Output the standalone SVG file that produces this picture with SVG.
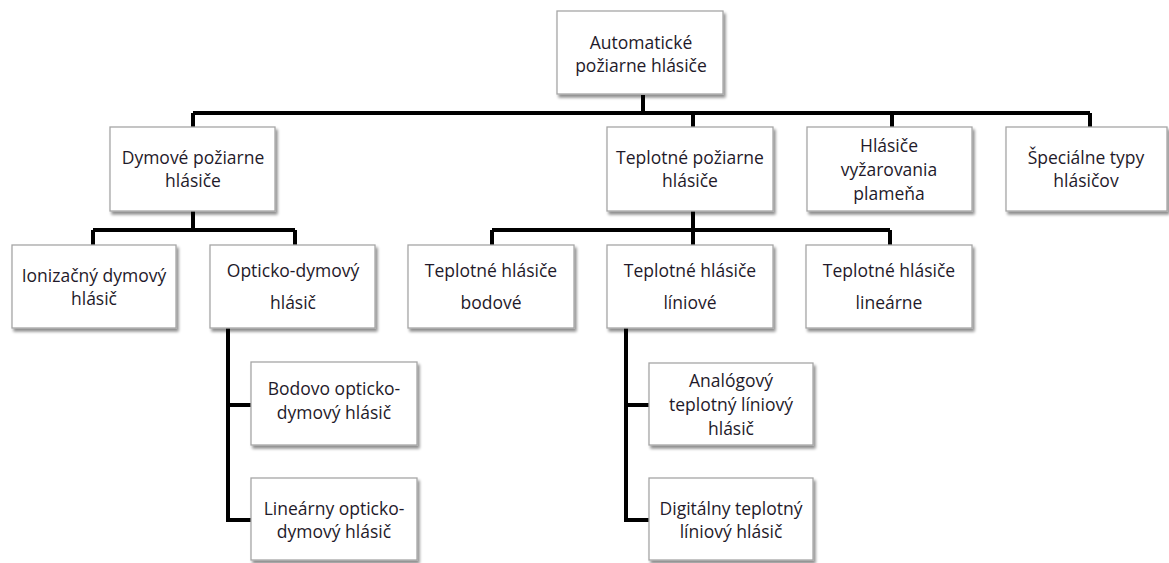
<svg xmlns="http://www.w3.org/2000/svg" width="1169" height="563" viewBox="0 0 1169 563">
<style>
.box{fill:#fff;stroke:#a6a6a6;stroke-width:1.3;filter:url(#sh)}
.t{font-family:"Open Sans","Liberation Sans",sans-serif;font-size:17.5px;fill:#1f1a2a;text-anchor:middle}
.c{fill:none;stroke:#000;stroke-width:4;stroke-linejoin:miter}
</style>
<defs>
<filter id="sh" x="-10%" y="-10%" width="130%" height="140%">
<feGaussianBlur in="SourceAlpha" stdDeviation="1.5"/>
<feOffset dx="2" dy="3" result="b"/>
<feComponentTransfer><feFuncA type="linear" slope="0.45"/></feComponentTransfer>
<feMerge><feMergeNode/><feMergeNode in="SourceGraphic"/></feMerge>
</filter>
</defs>
<g id="connectors">
<path class="c" d="M643 95V113M193 113H1090M193 113V127M693 113V127M892 113V127M1090 113V127"/>
<path class="c" d="M193 211V230M93 230H295M93 230V245M295 230V245"/>
<path class="c" d="M693 211V230M492 230H890M492 230V245M693 230V245M890 230V245"/>
<path class="c" d="M228 328V520H251M228 405H251"/>
<path class="c" d="M626 328V520H649M626 405H649"/>
</g>
<g id="n-root"><rect class="box" x="557" y="11" width="166" height="83"/><text class="t" x="641" y="49">Automatické</text><text class="t" x="641" y="72">požiarne hlásiče</text></g>
<g id="n-dymove"><rect class="box" x="110" y="127" width="165" height="84"/><text class="t" x="193" y="164">Dymové požiarne</text><text class="t" x="193" y="187">hlásiče</text></g>
<g id="n-teplotne"><rect class="box" x="607" y="127" width="166" height="84"/><text class="t" x="690" y="164">Teplotné požiarne</text><text class="t" x="690" y="187">hlásiče</text></g>
<g id="n-plamen"><rect class="box" x="807" y="127" width="165" height="84"/><text class="t" x="889" y="152">Hlásiče</text><text class="t" x="889" y="176">vyžarovania</text><text class="t" x="889" y="200">plameňa</text></g>
<g id="n-special"><rect class="box" x="1006" y="127" width="161" height="84"/><text class="t" x="1086" y="164">Špeciálne typy</text><text class="t" x="1086" y="187">hlásičov</text></g>
<g id="n-ioniz"><rect class="box" x="12" y="245" width="164" height="83"/><text class="t" x="94" y="282">Ionizačný dymový</text><text class="t" x="94" y="305">hlásič</text></g>
<g id="n-opticko"><rect class="box" x="210" y="245" width="165" height="83"/><text class="t" x="293" y="277">Opticko-dymový</text><text class="t" x="293" y="309">hlásič</text></g>
<g id="n-bodove"><rect class="box" x="408" y="245" width="166" height="83"/><text class="t" x="491" y="277">Teplotné hlásiče</text><text class="t" x="491" y="309">bodové</text></g>
<g id="n-liniove"><rect class="box" x="607" y="245" width="166" height="83"/><text class="t" x="690" y="277">Teplotné hlásiče</text><text class="t" x="690" y="309">líniové</text></g>
<g id="n-linearne"><rect class="box" x="806" y="245" width="166" height="83"/><text class="t" x="889" y="277">Teplotné hlásiče</text><text class="t" x="889" y="309">lineárne</text></g>
<g id="n-bodovo"><rect class="box" x="251" y="362" width="166" height="83"/><text class="t" x="334" y="395">Bodovo opticko-</text><text class="t" x="334" y="419">dymový hlásič</text></g>
<g id="n-linearny"><rect class="box" x="251" y="478" width="166" height="82"/><text class="t" x="334" y="515">Lineárny opticko-</text><text class="t" x="334" y="538">dymový hlásič</text></g>
<g id="n-analog"><rect class="box" x="649" y="363" width="164" height="82"/><text class="t" x="731" y="387">Analógový</text><text class="t" x="731" y="411">teplotný líniový</text><text class="t" x="731" y="435">hlásič</text></g>
<g id="n-digital"><rect class="box" x="649" y="478" width="164" height="82"/><text class="t" x="731" y="515">Digitálny teplotný</text><text class="t" x="731" y="538">líniový hlásič</text></g>
</svg>
